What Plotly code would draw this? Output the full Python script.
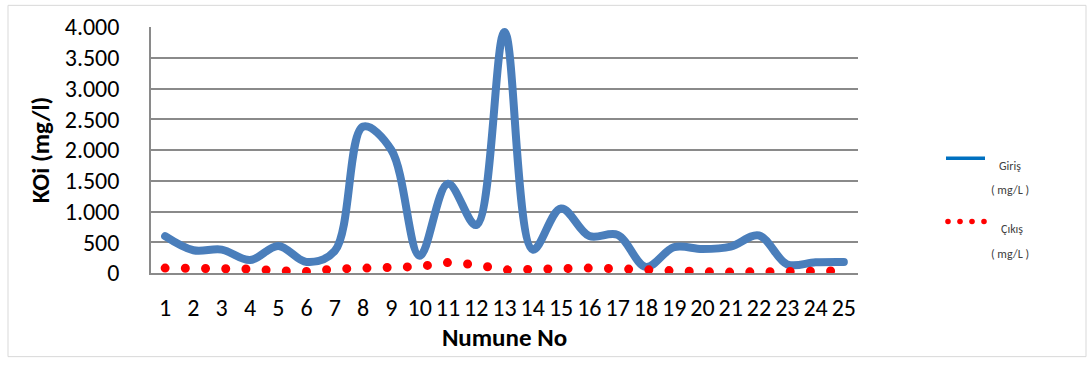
import plotly.graph_objects as go

# KOi concentration per sample
numune = list(range(1, 26))
giris = [600, 370, 380, 210, 440, 180, 360, 2380, 2000, 280, 1450, 780, 3920,
         380, 1050, 600, 620, 100, 420, 390, 430, 610, 140, 175, 180]
cikis = [80, 80, 80, 65, 35, 25, 65, 80, 80, 105, 170, 135, 50,
         65, 95, 80, 70, 45, 25, 20, 15, 20, 35, 35, 35]
y_ticks = [0, 500, 1000, 1500, 2000, 2500, 3000, 3500, 4000]

W, H = 1088, 365
L, R, T, B = 151, 230, 23, 92
PW, PH = W - L - R, H - T - B

FONT = "Calibri, Carlito, Lato, sans-serif"
GRID = "#8a8a8a"


def px_x(x):
    return (x - L) / PW


def px_y(y):
    return (H - B - y) / PH


fig = go.Figure()
fig.add_trace(go.Scatter(
    x=numune, y=giris, mode="lines", name="Giriş ( mg/L )",
    line=dict(color="#4A7EBB", width=8, shape="spline", smoothing=1.0),
    showlegend=False,
))
fig.add_trace(go.Scatter(
    x=numune, y=cikis, mode="lines", name="Çıkış ( mg/L )",
    line=dict(color="#FF0000", width=9, dash="0px,20.2px"),
    showlegend=False,
))

shapes = [
    # outer chart frame
    dict(type="rect", xref="paper", yref="paper",
         x0=px_x(8), x1=px_x(1086), y0=px_y(358), y1=px_y(1),
         line=dict(color="#d9d9d9", width=1), layer="below"),
    # legend key: Giriş
    dict(type="line", xref="paper", yref="paper",
         x0=px_x(946), x1=px_x(985), y0=px_y(156.5), y1=px_y(156.5),
         line=dict(color="#0070C0", width=3.5)),
]
for cx in (948, 960, 972, 984):
    r = 2.8
    shapes.append(dict(type="circle", xref="paper", yref="paper",
                       x0=px_x(cx - r), x1=px_x(cx + r),
                       y0=px_y(220.7 + r), y1=px_y(220.7 - r),
                       fillcolor="#FF0000", line=dict(width=0)))

legend_text = [
    ("Giriş", 1010, 164.5),
    ("( mg/L )", 1010, 189),
    ("Çıkış", 1012, 228.5),
    ("( mg/L )", 1010, 254),
]
annotations = [
    dict(text=t, xref="paper", yref="paper", x=px_x(x), y=px_y(y),
         xanchor="center", yanchor="middle", showarrow=False,
         font=dict(family=FONT, size=12, color="#404040"))
    for t, x, y in legend_text
]

fig.update_layout(
    width=W, height=H,
    margin=dict(l=L, r=R, t=T, b=B, pad=0),
    paper_bgcolor="white", plot_bgcolor="white",
    separators=",.",
    showlegend=False,
    font=dict(family=FONT, color="#000000"),
    shapes=shapes,
    annotations=annotations,
    xaxis=dict(
        range=[0.5, 25.5], tickmode="array", tickvals=numune,
        ticktext=[str(n) for n in numune],
        showgrid=False, zeroline=False,
        showline=True, linecolor=GRID, linewidth=1.5,
        ticks="", ticklabelstandoff=12,
        tickfont=dict(family=FONT, size=24, color="#000000"),
        title=dict(text="<b>Numune No</b>", standoff=7,
                   font=dict(family=FONT, size=25, color="#000000")),
    ),
    yaxis=dict(
        range=[0, 4000], tickmode="array", tickvals=y_ticks,
        tickformat=",d",
        showgrid=True, gridcolor=GRID, gridwidth=1.5,
        zeroline=False,
        showline=True, linecolor=GRID, linewidth=1.5,
        ticks="", ticklabelstandoff=25,
        tickfont=dict(family=FONT, size=24, color="#000000"),
        title=dict(text="<b>KOi (mg/l)</b>", standoff=8,
                   font=dict(family=FONT, size=25, color="#000000")),
    ),
)

# round caps turn the zero-length dashes of the Çıkış line into dots
round_caps = """
var gd = document.getElementById('{plot_id}');
gd.querySelectorAll('.scatterlayer .trace path.js-line').forEach(function (p) {
    p.style.strokeLinecap = 'round';
});
"""

fig.write_html("out.html", post_script=round_caps)
